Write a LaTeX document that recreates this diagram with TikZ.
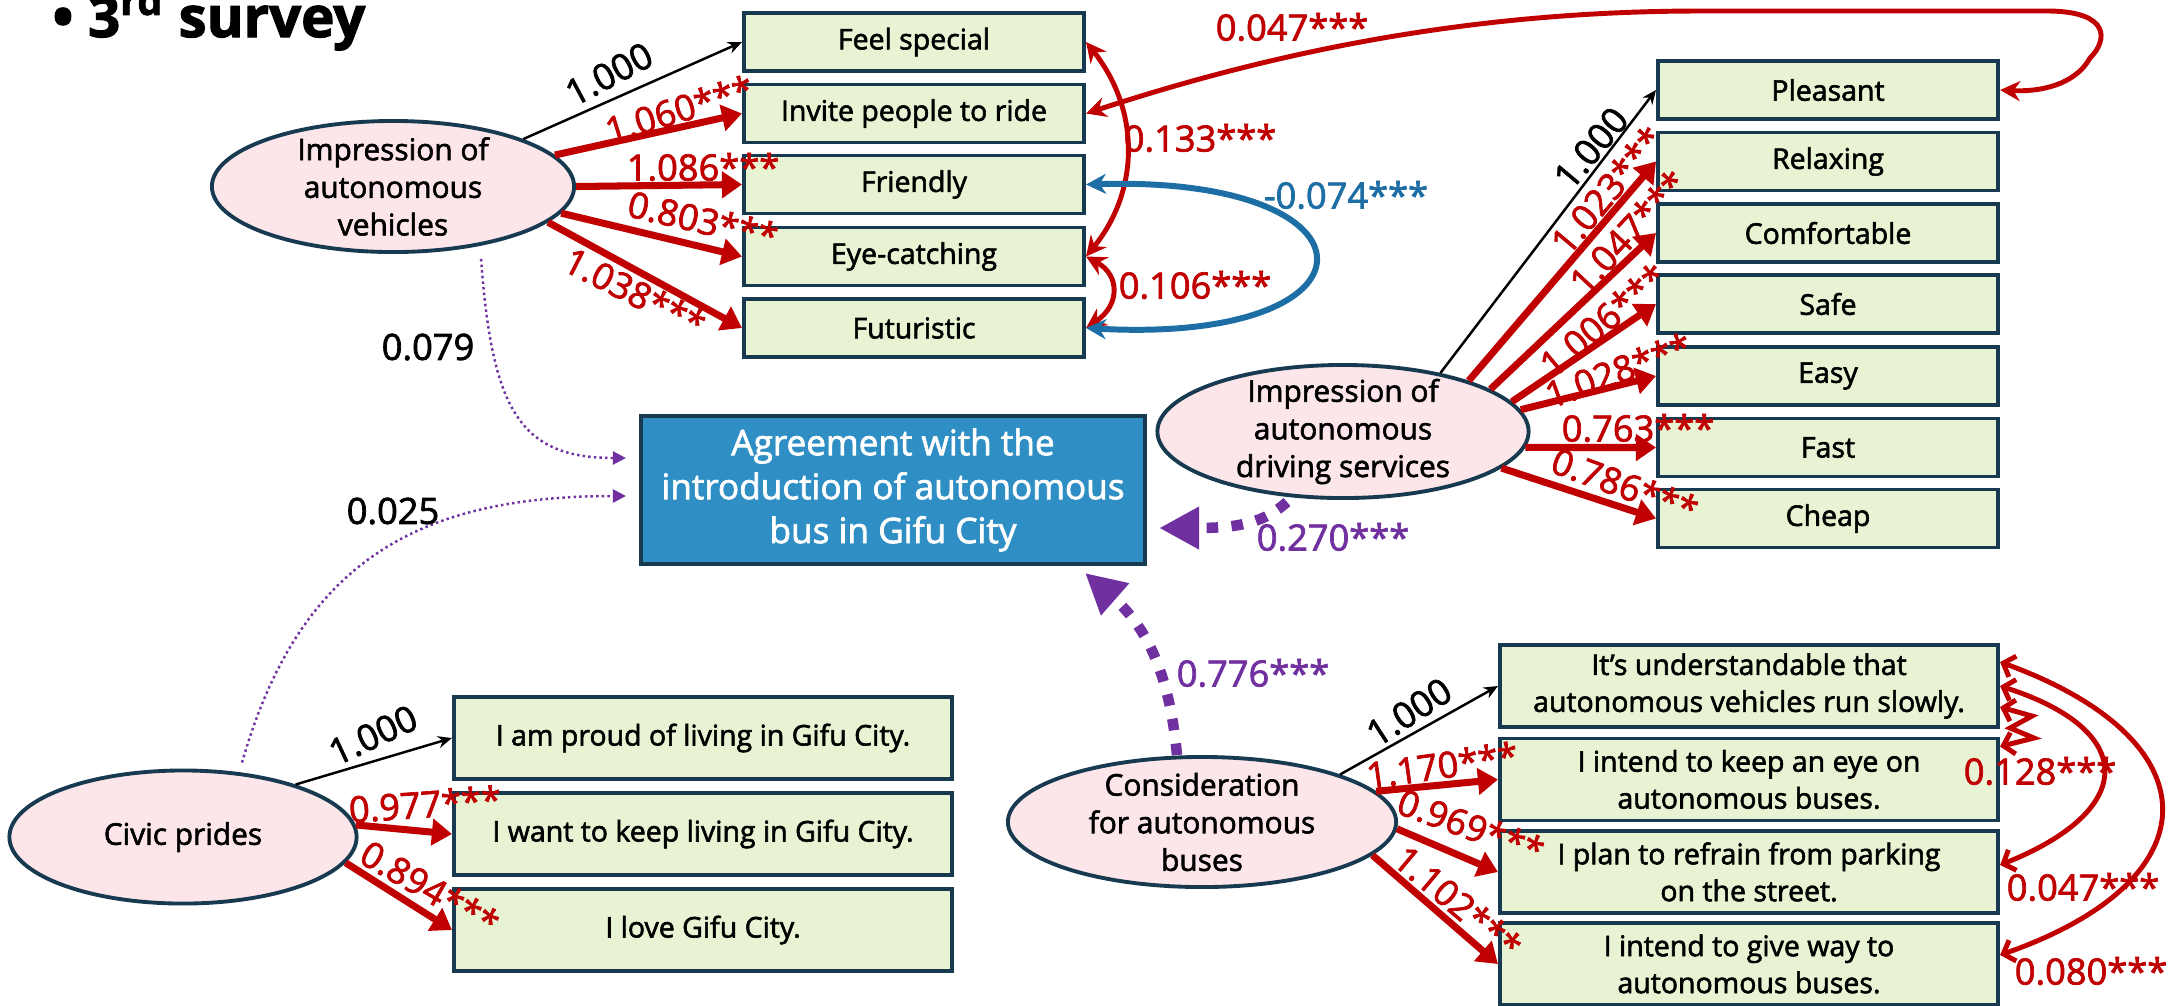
\documentclass[tikz,border=0pt]{standalone}
\usepackage{fontspec}
\setmainfont{Open Sans}[FakeBold=2]
\usetikzlibrary{shapes.geometric,arrows.meta}

\definecolor{navy}{RGB}{23,58,80}
\definecolor{obsfill}{RGB}{232,243,211}
\definecolor{latfill}{RGB}{252,230,234}
\definecolor{goalfill}{RGB}{47,143,196}
\definecolor{coefred}{RGB}{192,0,0}
\definecolor{coefblue}{RGB}{30,110,166}
\definecolor{coefpurple}{RGB}{112,48,160}

\tikzset{
  obs/.style={draw=navy,fill=obsfill,line width=1.1pt,minimum width=3.4cm,minimum height=0.58cm,
    inner sep=0pt,align=center,font=\fontsize{8.1}{10.5}\selectfont},
  wide/.style={obs,minimum width=4.98cm,minimum height=0.82cm},
  lat/.style={ellipse,draw=navy,fill=latfill,line width=1.1pt,inner xsep=0pt,inner ysep=-3pt,
    align=center,font=\fontsize{8.5}{10.7}\selectfont},
  goal/.style={draw=navy,fill=goalfill,line width=1.1pt,minimum width=5.04cm,minimum height=1.48cm,
    align=center,text=white,font=\fontsize{10}{12.5}\selectfont},
  fixed/.style={black,line width=0.7pt,-{Stealth[length=0.14cm,width=0.12cm]}},
  load/.style={coefred,line width=2pt,-{Triangle[length=0.2cm,width=0.26cm]}},
  cov/.style={coefred,line width=1.4pt,{Stealth[length=0.2cm,width=0.2cm]}-{Stealth[length=0.2cm,width=0.2cm]}},
  covblue/.style={cov,coefblue,line width=1.7pt},
  covbarb/.style={coefred,line width=1.4pt,{Straight Barb[length=0.1cm,width=0.22cm]}-{Straight Barb[length=0.1cm,width=0.22cm]}},
  weak/.style={coefpurple,line width=0.7pt,dash pattern=on 0.7pt off 0.9pt,-{Triangle[length=0.13cm,width=0.13cm]}},
  strong/.style={coefpurple,line width=3pt,dash pattern=on 3.3pt off 3.8pt,-{Triangle[length=0.4cm,width=0.4cm]}},
  coef/.style={font=\fontsize{10.3}{12}\selectfont,inner sep=0pt},
  coefr/.style={coef,coefred},
}

\begin{document}
\begin{tikzpicture}[x=0.01cm,y=-0.01cm]
  \useasboundingbox (0,0) rectangle (2176,1005);

  \node[anchor=base west,font=\bfseries\fontsize{16}{19}\selectfont] (ttl) at (40,37) {\textbullet\ 3\textsuperscript{rd} survey};

  \node[obs] (fs) at (914,42) {Feel special};
  \node[obs] (ip) at (914,113.5) {Invite people to ride};
  \node[obs] (fr) at (914,184.5) {Friendly};
  \node[obs] (ec) at (914,256.5) {Eye-catching};
  \node[obs] (fu) at (914,328) {Futuristic};

  \node[obs] (pl) at (1828,90) {Pleasant};
  \node[obs] (rx) at (1828,161.5) {Relaxing};
  \node[obs] (cf) at (1828,233) {Comfortable};
  \node[obs] (sf) at (1828,304) {Safe};
  \node[obs] (es) at (1828,376) {Easy};
  \node[obs] (fa) at (1828,447.5) {Fast};
  \node[obs] (ch) at (1828,518.5) {Cheap};

  \node[wide] (cp1) at (703,738) {I am proud of living in Gifu City.};
  \node[wide] (cp2) at (703,834) {I want to keep living in Gifu City.};
  \node[wide] (cp3) at (703,930) {I love Gifu City.};

  \node[wide] (cs1) at (1749,686) {It’s understandable that\\autonomous vehicles run slowly.};
  \node[wide] (cs2) at (1749,779.5) {I intend to keep an eye on\\autonomous buses.};
  \node[wide] (cs3) at (1749,872) {I plan to refrain from parking\\on the street.};
  \node[wide] (cs4) at (1749,964) {I intend to give way to\\autonomous buses.};

  \node[goal] (ag) at (893,490) {Agreement with the\\introduction of autonomous\\bus in Gifu City};

  \node[lat,minimum width=3.62cm,minimum height=1.31cm] (ivh) at (393,186.5) {Impression of\\autonomous\\vehicles};
  \node[lat,minimum width=3.71cm,minimum height=1.33cm] (isd) at (1343,431.5) {Impression of\\autonomous\\driving services};
  \node[lat,minimum width=3.47cm,minimum height=1.33cm] (civ) at (183,837) {Civic prides};
  \node[lat,minimum width=3.88cm,minimum height=1.30cm] (cab) at (1202,822) {Consideration\\for autonomous\\buses};

  \draw[fixed] (ivh.20) -- (fs.west);
  \draw[load] (ivh.11) -- (ip.west);
  \draw[load] (ivh.east) -- (fr.west);
  \draw[load] (ivh.351) -- (ec.west);
  \draw[load] (ivh.347) -- (fu.west);
  \node[coef,rotate=28] (l1) at (609,74) {1.000};
  \node[coefr,rotate=17] (l2) at (679,109) {1.060***};
  \node[coefr] (l3) at (703,167) {1.086***};
  \node[coefr,rotate=-13] (l4) at (703,220) {0.803***};
  \node[coefr,rotate=-27] (l5) at (635,292) {1.038***};

  \draw[fixed] (isd.31) -- (pl.west);
  \draw[load] (isd.22) -- (rx.west);
  \draw[load] (isd.16) -- (cf.west);
  \draw[load] (isd.10) -- (sf.west);
  \draw[load] (isd.7) -- (es.west);
  \draw[load] (isd.355) -- (fa.west);
  \draw[load] (isd.347) -- (ch.west);
  \node[coef,rotate=50] (m1) at (1591,148) {1.000};
  \node[coefr,rotate=50] (m2) at (1607,190) {1.023***};
  \node[coefr,rotate=47] (m3) at (1628,232) {1.047***};
  \node[coefr,rotate=40] (m4) at (1603,320) {1.006***};
  \node[coefr,rotate=20] (m5) at (1618,370) {1.028***};
  \node[coefr] (m6) at (1638,428) {0.763***};
  \node[coefr,rotate=-20] (m7) at (1625,485) {0.786***};

  \draw[fixed] (civ.25) -- (cp1.west);
  \draw[load] (civ.4) -- (cp2.west);
  \draw[load] (civ.351) -- (cp3.west);
  \node[coef,rotate=25] (n1) at (373,735) {1.000};
  \node[coefr,rotate=4] (n2) at (425,804) {0.977***};
  \node[coefr,rotate=-30] (n3) at (430,888) {0.894***};

  \draw[fixed] (cab.19) -- (cs1.west);
  \draw[load] (cab.10) -- (cs2.west);
  \draw[load] (cab.358) -- (cs3.west);
  \draw[load] (cab.349) -- (cs4.west);
  \node[coef,rotate=33] (k1) at (1409,712) {1.000};
  \node[coefr,rotate=8] (k2) at (1442,765) {1.170***};
  \node[coefr,rotate=-20] (k3) at (1471,826) {0.969***};
  \node[coefr,rotate=-40] (k4) at (1458,902) {1.102***};

  \draw[cov] (fs.east) .. controls (1140,110) and (1140,190) .. (ec.east);
  \draw[cov] (ec.east) .. controls (1120,275) and (1120,305) .. (fu.east);
  \draw[covblue] (fr.east) .. controls (1390,175) and (1390,345) .. (fu.east);
  \draw[cov] (ip.east) .. controls (1250,60) and (1450,11) .. (1700,11) -- (2050,11)
    .. controls (2110,12) and (2108,40) .. (2090,58) .. controls (2075,85) and (2040,92) .. (pl.east);
  \node[coefr] (c1) at (1200,138) {0.133***};
  \node[coefr] (c2) at (1195,285) {0.106***};
  \node[coef,coefblue] (c3) at (1346,195) {-0.074***};
  \node[coefr] (c4) at (1292,27) {0.047***};

  \draw[covbarb] ([yshift=-0.21cm]cs1.east) -- (2032,716) -- (2010,728) -- (2034,738) -- ([yshift=0.33cm]cs2.east);
  \draw[covbarb] (cs1.east) .. controls (2138,730) and (2138,810) .. ([yshift=0.07cm]cs3.east);
  \draw[covbarb] ([yshift=0.24cm]cs1.east) .. controls (2215,740) and (2215,880) .. ([yshift=0.09cm]cs4.east);
  \node[coefr] (c5) at (2040,771) {0.128***};
  \node[coefr] (c6) at (2083,887) {0.047***};
  \node[coefr] (c7) at (2091,971) {0.080***};

  \draw[weak] ([xshift=0.88cm,yshift=-0.05cm]ivh.south) .. controls (492,410) and (520,458) .. ([xshift=-0.13cm,yshift=0.32cm]ag.west);
  \draw[weak] ([xshift=0.59cm,yshift=0.06cm]civ.north) .. controls (300,560) and (420,496) .. ([xshift=-0.13cm,yshift=-0.06cm]ag.west);
  \draw[strong] ([xshift=-0.56cm,yshift=-0.02cm]isd.south) .. controls (1265,522) and (1240,528) .. ([xshift=0.12cm,yshift=-0.38cm]ag.east);
  \draw[strong] ([xshift=-0.25cm]cab.north) .. controls (1170,680) and (1150,630) .. ([xshift=-0.62cm,yshift=-0.07cm]ag.south east);
  \node[coef] (p1) at (428,347) {0.079};
  \node[coef] (p2) at (393,511) {0.025};
  \node[coef,coefpurple] (p3) at (1333,537) {0.270***};
  \node[coef,coefpurple] (p4) at (1253,673) {0.776***};
\end{tikzpicture}
\end{document}
